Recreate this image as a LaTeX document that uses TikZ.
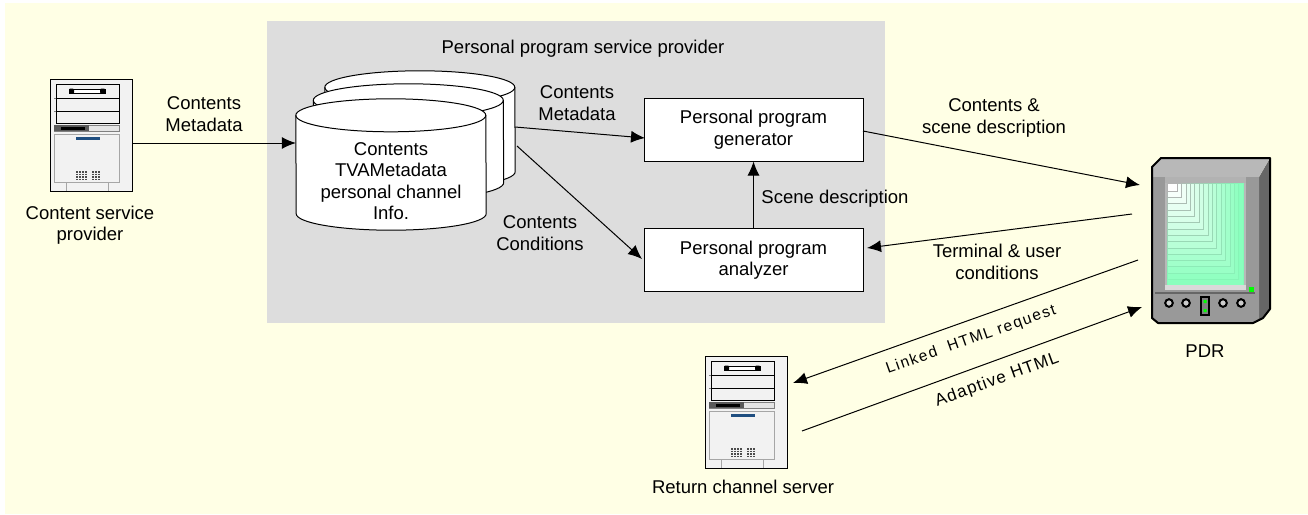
\documentclass[tikz,border=0pt]{standalone}
\usepackage{fontspec}
\setmainfont{Liberation Sans}
\usetikzlibrary{arrows.meta}
\definecolor{paper}{HTML}{FFFFE5}
\definecolor{panel}{HTML}{DDDDDD}
\definecolor{bodygray}{HTML}{999999}
\definecolor{rimgray}{HTML}{B8B8B8}
\definecolor{sidegray}{HTML}{666666}
\definecolor{screengreen}{HTML}{80FFB8}
\definecolor{slotblue}{HTML}{1F4E80}
\newcommand{\drumshape}[1]{
  \draw[line width=1pt,fill=white] ([yshift=-16.5pt]#1.north west)
    arc[start angle=180,end angle=0,x radius=95pt,y radius=16.5pt]
    -- ([yshift=16.5pt]#1.south east)
    arc[start angle=0,end angle=-180,x radius=95pt,y radius=16.5pt] -- cycle;
  \draw[line width=1pt] ([yshift=-16.5pt]#1.north west)
    arc[start angle=180,end angle=360,x radius=95pt,y radius=16.5pt];
}
\tikzset{
  txt/.style={font=\fontsize{18.5}{21.5}\selectfont,align=center,inner sep=0pt},
  drum/.style={inner sep=0pt,minimum width=190pt},
  procbox/.style={draw,fill=white,line width=1pt,minimum width=219pt,minimum height=63pt,
    txt},
  flow/.style={-{Latex[length=14pt,width=12pt]},line width=1pt},
  srv/.pic={
    \draw[fill=white!95!black,line width=1pt] (0,0) rectangle (82,112);
    \draw[line width=1pt] (6,5) rectangle (69,44);
    \draw[line width=.8pt] (6,19) -- (69,19) (6,32) -- (69,32);
    \draw[gray] (4,19) -- (6,19) (4,32) -- (6,32);
    \draw[line width=1pt,fill=white] (19,10) rectangle (55,14);
    \fill[rounded corners=1pt] (19,9.5) rectangle (24,14.5) (50,9.5) rectangle (55,14.5);
    \draw[gray,line width=1pt,fill=white!90!black] (4,46) rectangle (69,52);
    \fill[gray!70!black] (4,46) rectangle (39,52);
    \fill (11,47.5) rectangle (35,50.5);
    \draw[gray!70,line width=1pt] (4,55) rectangle (69,103);
    \draw[gray!70,line width=1pt] (16,103) -- (16,112) (58,103) -- (58,112);
    \fill[slotblue] (26,58) rectangle (50,61);
    \foreach \c in {27,30,33,36,43,46,49}
      \draw[gray!60!black,line width=2pt,dash pattern=on 1.6pt off 1pt] (\c,92) -- (\c,101);
  }
}
\begin{document}
\begin{tikzpicture}[x=1pt,y=-1pt]
  \useasboundingbox (0,0) rectangle (1308,514);
  \fill[paper] (5,3) rectangle (1308,514);
  \fill[panel] (267,21) rectangle (885,323);
  \node[txt] (title) at (583,49) {Personal program service provider};

  \pic at (50,79) {srv};
  \coordinate (srcout) at (132,143);
  \node[txt] (srclabel) at (90,225) {Content service\\provider};
  \node[txt] (srcmeta) at (204,114) {Contents\\Metadata};

  \node[drum,minimum height=117pt] (drum3) at (420,129.5) {};
  \node[drum,minimum height=115pt] (drum2) at (408.5,141.5) {};
  \node[drum,minimum height=131pt] (drum1) at (391,164.5) {};
  \drumshape{drum3}
  \drumshape{drum2}
  \drumshape{drum1}
  \node[txt] (drumtext) at (391,181) {Contents\\TVAMetadata\\personal channel\\Info.};

  \node[procbox] (generator) at (753.5,129.5) {Personal program\\generator};
  \node[procbox] (analyzer) at (753.5,260) {Personal program\\analyzer};

  \coordinate (drumA) at (515,127);
  \coordinate (drumB) at (517,146);
  \coordinate (genin) at (645,138);
  \coordinate (anin) at (642,259);
  \coordinate (genout) at (863,131);
  \coordinate (pdrin) at (1140,185);
  \coordinate (pdrout) at (1132,214);
  \coordinate (anout) at (867,248);
  \coordinate (reqstart) at (1138,260);
  \coordinate (reqend) at (793,383);
  \coordinate (htmlstart) at (802,431);
  \coordinate (htmlend) at (1142,307);

  \draw[flow] (srcout) -- (srcout -| drum1.west);
  \draw[flow] (drumA) -- (genin);
  \draw[flow] (drumB) -- (anin);
  \draw[flow] (analyzer.north) -- (generator.south);
  \draw[flow] (genout) -- (pdrin);
  \draw[flow] (pdrout) -- (anout);
  \draw[flow] (reqstart) -- (reqend);
  \draw[flow] (htmlstart) -- (htmlend);

  \node[txt] (m2) at (577,103) {Contents\\Metadata};
  \node[txt] (cond) at (540,233) {Contents\\Conditions};
  \node[txt] (scene) at (835,199) {Scene description};
  \node[txt] (out) at (994,118) {Contents \&\\scene description};
  \node[txt] (term) at (997,262) {Terminal \& user\\conditions};
  \node[txt,rotate=19.5,font=\fontsize{15.5}{18}\selectfont\addfontfeature{LetterSpace=10}] (linked) at (971,340) {Linked\ \ HTML request};
  \node[txt,rotate=20,font=\fontsize{17}{20}\selectfont\addfontfeature{LetterSpace=7}] (adaptive) at (997,380) {Adaptive HTML};

  \pic at (705,356) {srv};
  \node[txt] (retlabel) at (743,487) {Return channel server};

  % PDR
  \fill[sidegray] (1259,177) -- (1270,158) -- (1270,309) -- (1263,318) -- (1253,323) -- (1259,318) -- cycle;
  \fill[rimgray] (1152,177) -- (1152,167) -- (1161,158) -- (1270,158) -- (1259,177) -- cycle;
  \fill[bodygray] (1152,177) -- (1259,177) -- (1259,318) -- (1253,323) -- (1158,323) -- (1152,318) -- cycle;
  \draw[line width=2pt,line join=round] (1161,158) -- (1270,158) -- (1270,309) -- (1263,318) -- (1253,323)
    -- (1158,323) -- (1152,318) -- (1152,167) -- cycle;
  \fill[rimgray] (1165,177) rectangle (1246,290);
  \fill[screengreen] (1167,183) rectangle (1243,285);
  \foreach \i in {15,14,...,0}{
    \pgfmathsetmacro{\w}{10+\i*4.4}
    \pgfmathsetmacro{\hh}{8+\i*6.3}
    \pgfmathsetmacro{\mixv}{100-\i*6.2}
    \draw[fill=white!\mixv!screengreen,draw=black!30!white!\mixv!screengreen] (1167,183) rectangle ++(\w,\hh);
  }
  \fill[gray!60] (1165,177) rectangle (1246,183);
  \fill[white!85!black] (1165,285) rectangle (1246,290);
  \fill[green] (1249,287) rectangle (1254,292);
  \draw[sidegray,line width=2pt] (1155,293) -- (1255,293);
  \foreach \b in {1169,1186,1223,1241}
    \draw[line width=2pt,fill=bodygray!50!white] (\b,303) circle (3.8pt);
  \draw[line width=1.3pt,fill=gray] (1201,297) rectangle (1209,315);
  \fill[green] (1203.5,300) rectangle (1206.5,303) (1203.5,309) rectangle (1206.5,312);
  \node[txt] (pdrlabel) at (1205,351) {PDR};
\end{tikzpicture}
\end{document}
